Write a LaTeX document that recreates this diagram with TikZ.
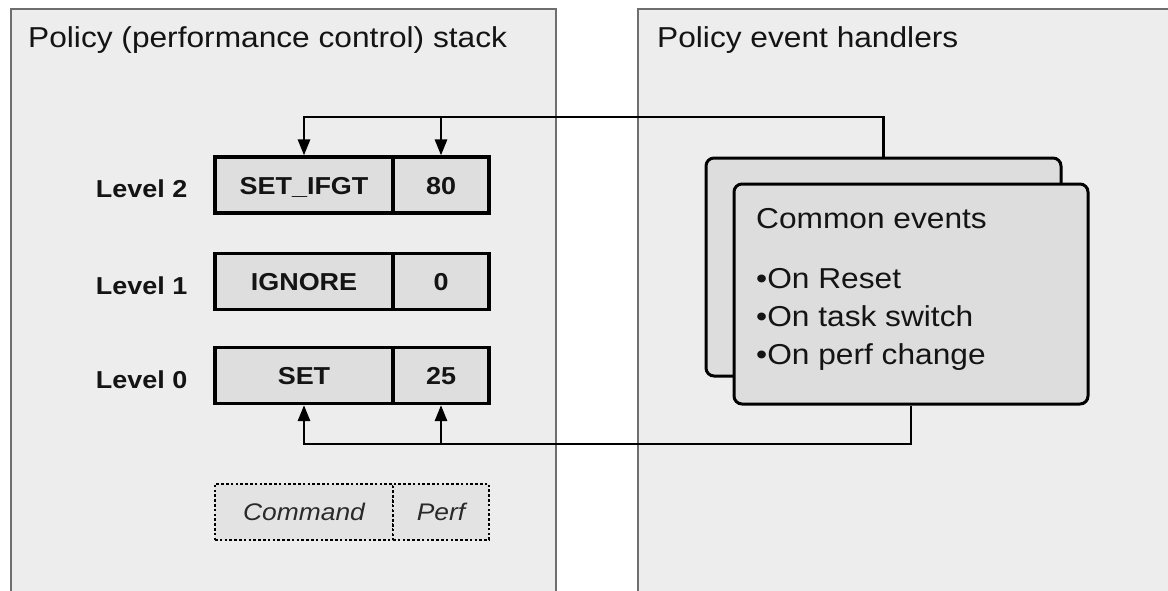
\documentclass[tikz,border=0pt]{standalone}
\usepackage{fontspec}
\setmainfont{Liberation Sans}[FakeStretch=1.1]
\usetikzlibrary{arrows.meta}
\definecolor{panelfill}{HTML}{EDEDED}
\definecolor{panelline}{HTML}{6E6E6E}
\definecolor{cellfill}{HTML}{DEDEDE}
\definecolor{cardfill}{HTML}{DDDDDD}
\definecolor{legfill}{HTML}{E3E3E3}
\definecolor{txt}{HTML}{141414}
\definecolor{legtxt}{HTML}{2A2A2A}
\tikzset{
  panel/.style={draw=panelline, fill=panelfill, line width=1.6pt},
  title/.style={anchor=base west, inner sep=0pt, text=txt, font=\fontsize{28.8}{34}\selectfont},
  cell/.style={draw=black, fill=cellfill, line width=3.2pt, minimum height=56pt, inner sep=0pt,
    text height=18pt, text depth=0pt, text=txt, font=\bfseries\fontsize{24.5}{30}\selectfont},
  cmdcell/.style={cell, minimum width=178pt},
  perfcell/.style={cell, minimum width=96pt},
  legcell/.style={draw=black, fill=legfill, dash pattern=on 2.6pt off 2.2pt, line width=2.6pt, minimum height=56pt, inner sep=0pt,
    text height=17pt, text depth=0pt, text=legtxt, font=\itshape\fontsize{24}{30}\selectfont},
  levlabel/.style={anchor=base east, inner sep=0pt, text=txt, font=\bfseries\fontsize{24.5}{30}\selectfont},
  card/.style={draw=black, line width=3pt, rounded corners=8pt, fill=cardfill, inner sep=0pt},
  cardtext/.style={anchor=base west, inner sep=0pt, text=txt, font=\fontsize{28.8}{34}\selectfont},
  conn/.style={draw=black, line width=2.8pt},
  arr/.style={conn, -{Triangle[length=16pt, width=12pt]}}
}
\begin{document}
\begin{tikzpicture}[x=1pt, y=-1pt]
\useasboundingbox (0,0) rectangle (1168,590);
\clip (0,0) rectangle (1168,590);
\fill[white] (0,0) rectangle (1168,590);

% panels
\draw[panel] (11,9) rectangle (556,610);
\draw[panel] (638,9) rectangle (1190,610);
\node[title] (ltitle) at (28,47) {Policy (performance control) stack};
\node[title] (rtitle) at (657,47) {Policy event handlers};

% stack
\node[levlabel] (lev2) at (187.5,197) {Level 2};
\node[levlabel] (lev1) at (187.5,294) {Level 1};
\node[levlabel] (lev0) at (187.5,388) {Level 0};

\node[cmdcell] (l2cmd) at (304,185) {SET\_IFGT};
\node[perfcell] (l2perf) at (441,185) {80};
\node[cmdcell] (l1cmd) at (304,281.5) {IGNORE};
\node[perfcell] (l1perf) at (441,281.5) {0};
\node[cmdcell] (l0cmd) at (304,375.5) {SET};
\node[perfcell] (l0perf) at (441,375.5) {25};

\node[legcell, minimum width=178pt] (legcmd) at (304,512) {Command};
\node[legcell, minimum width=96pt] (legperf) at (441,512) {Perf};

% cards
\node[card, minimum width=355pt, minimum height=218pt] (back) at (883.5,267) {};
\node[card, minimum width=354pt, minimum height=220pt] (front) at (911,294) {};
\node[cardtext] (hdr) at (756,228) {Common events};
\node[cardtext] (b1) at (756,288) {•On Reset};
\node[cardtext] (b2) at (756,326) {•On task switch};
\node[cardtext] (b3) at (756,364) {•On perf change};

% connectors
\coordinate (topy) at (0,117);
\coordinate (boty) at (0,444);
\draw[arr] (back.north) -- (back.north |- topy) -| (l2cmd.north);
\draw[arr] (l2perf.north |- topy) -- (l2perf.north);
\draw[arr] (front.south) -- (front.south |- boty) -| (l0cmd.south);
\draw[arr] (l0perf.south |- boty) -- (l0perf.south);
\end{tikzpicture}
\end{document}
